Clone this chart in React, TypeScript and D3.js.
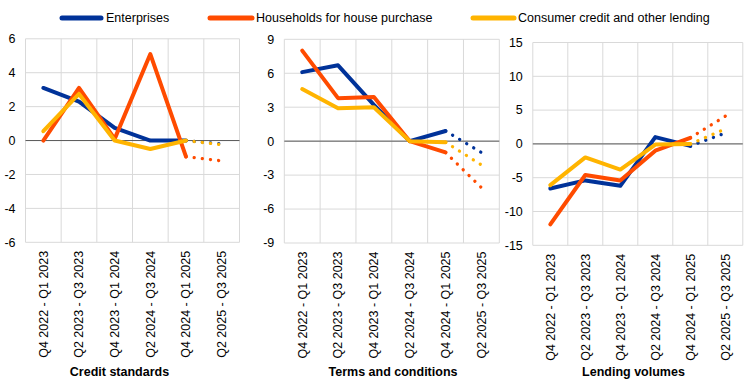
import React from "react";
import * as d3 from "d3";

const categories = [
  "Q4 2022 - Q1 2023",
  "Q2 2023 - Q3 2023",
  "Q4 2023 - Q1 2024",
  "Q2 2024 - Q3 2024",
  "Q4 2024 - Q1 2025",
  "Q2 2025 - Q3 2025",
];

const seriesNames = ["Enterprises", "Households for house purchase", "Consumer credit and other lending"];
const seriesColors = ["#003299", "#FF4B00", "#FFB400"];

// Credit standards
const csEnterprises = [3.1, 2.3, 0.75, 0, 0, -0.2];
const csHouseholds = [0, 3.1, 0.1, 5.1, -0.95, -1.2];
const csConsumer = [0.55, 2.75, 0, -0.5, 0, -0.25];

// Terms and conditions
const tcEnterprises = [6.1, 6.7, 3.2, 0, 0.9, -1.0];
const tcHouseholds = [8.0, 3.8, 3.9, 0, -1.0, -4.1];
const tcConsumer = [4.6, 2.9, 3.0, 0, -0.1, -2.1];

// Lending volumes
const lvEnterprises = [-6.6, -5.4, -6.2, 1.0, -0.3, 1.6];
const lvHouseholds = [-11.9, -4.6, -5.4, -1.0, 0.9, 4.1];
const lvConsumer = [-6.1, -2.0, -3.8, -0.1, 0.0, 2.2];

const csTicks = [-6, -4, -2, 0, 2, 4, 6];
const tcTicks = [-9, -6, -3, 0, 3, 6, 9];
const lvTicks = [-15, -10, -5, 0, 5, 10, 15];

const panelTitles = ["Credit standards", "Terms and conditions", "Lending volumes"];

const FONT = "'Liberation Sans', Arial, sans-serif";

type PanelProps = {
  x0: number;
  x1: number;
  y0: number;
  y1: number;
  ticks: number[];
  series: number[][];
  title: string;
  titleX: number;
};

function Panel({ x0, x1, y0, y1, ticks, series, title, titleX }: PanelProps) {
  const xs = d3.scaleBand<string>().domain(categories).range([x0, x1]).padding(0);
  const ys = d3
    .scaleLinear()
    .domain([ticks[0], ticks[ticks.length - 1]])
    .range([y1, y0]);
  const cx = (c: string) => (xs(c) as number) + xs.bandwidth() / 2;
  const line = d3
    .line<[string, number]>()
    .x((d) => cx(d[0]))
    .y((d) => ys(d[1]));

  return (
    <g>
      {/* horizontal gridlines */}
      {ticks.map((t) => (
        <line key={"h" + t} x1={x0} x2={x1} y1={ys(t)} y2={ys(t)} stroke="#d9d9d9" strokeWidth={1} />
      ))}
      {/* vertical gridlines */}
      {categories.map((c) => (
        <line
          key={"v" + c}
          x1={(xs(c) as number) + xs.bandwidth()}
          x2={(xs(c) as number) + xs.bandwidth()}
          y1={y0}
          y2={y1}
          stroke="#d9d9d9"
          strokeWidth={1}
        />
      ))}
      <line x1={x0} x2={x0} y1={y0} y2={y1} stroke="#d9d9d9" strokeWidth={1} />
      {/* zero line */}
      <line x1={x0} x2={x1} y1={ys(0)} y2={ys(0)} stroke="#595959" strokeWidth={1} />
      {/* y tick labels */}
      {ticks.map((t) => (
        <text
          key={"t" + t}
          x={x0 - 10}
          y={ys(t)}
          dy="0.35em"
          textAnchor="end"
          fontSize={12.5}
          fontFamily={FONT}
          fill="#000"
        >
          {t}
        </text>
      ))}
      {/* x labels */}
      {categories.map((c) => (
        <text
          key={"x" + c}
          transform={`translate(${cx(c)},${y1 + 8.5}) rotate(-90)`}
          textAnchor="end"
          dy="0.35em"
          fontSize={12.5}
          fontFamily={FONT}
          fill="#000"
        >
          {c}
        </text>
      ))}
      {/* series */}
      {series.map((vals, i) => {
        const pts: [string, number][] = categories.map((c, k) => [c, vals[k]]);
        const solid = pts.slice(0, 5);
        const dotted = pts.slice(4, 6);
        return (
          <g key={"s" + i}>
            <path
              d={line(dotted) as string}
              fill="none"
              stroke={seriesColors[i]}
              strokeWidth={3.3}
              strokeLinecap="round"
              strokeDasharray="0.1 8.1"
            />
            <path
              d={line(solid) as string}
              fill="none"
              stroke={seriesColors[i]}
              strokeWidth={4}
              strokeLinejoin="round"
              strokeLinecap="round"
            />
          </g>
        );
      })}
      <text
        x={titleX}
        y={376}
        textAnchor="middle"
        fontSize={12.5}
        fontWeight="bold"
        fontFamily={FONT}
        fill="#000"
      >
        {title}
      </text>
    </g>
  );
}

export default function App() {
  const legend = [
    { x1: 62, x2: 101, tx: 106 },
    { x1: 210, x2: 252, tx: 256 },
    { x1: 473, x2: 514, tx: 518 },
  ];
  return (
    <svg
      width={747}
      height={387}
      style={{ position: "absolute", left: 0, top: 0, background: "#fff" }}
    >
      <rect x={0} y={0} width={747} height={387} fill="#fff" />
      {seriesNames.map((n, i) => (
        <g key={n}>
          <line
            x1={legend[i].x1}
            x2={legend[i].x2}
            y1={18}
            y2={18}
            stroke={seriesColors[i]}
            strokeWidth={5}
            strokeLinecap="round"
          />
          <text x={legend[i].tx} y={18} dy="0.35em" fontSize={12.5} fontFamily={FONT} fill="#000">
            {n}
          </text>
        </g>
      ))}
      <Panel
        x0={25.5}
        x1={239.5}
        y0={38.8}
        y1={242.3}
        ticks={csTicks}
        series={[csEnterprises, csHouseholds, csConsumer]}
        title={panelTitles[0]}
        titleX={119.5}
      />
      <Panel
        x0={284.3}
        x1={499.3}
        y0={39.3}
        y1={243}
        ticks={tcTicks}
        series={[tcEnterprises, tcHouseholds, tcConsumer]}
        title={panelTitles[1]}
        titleX={393}
      />
      <Panel
        x0={532.8}
        x1={742.8}
        y0={42.5}
        y1={245.3}
        ticks={lvTicks}
        series={[lvEnterprises, lvHouseholds, lvConsumer]}
        title={panelTitles[2]}
        titleX={633.5}
      />
    </svg>
  );
}
